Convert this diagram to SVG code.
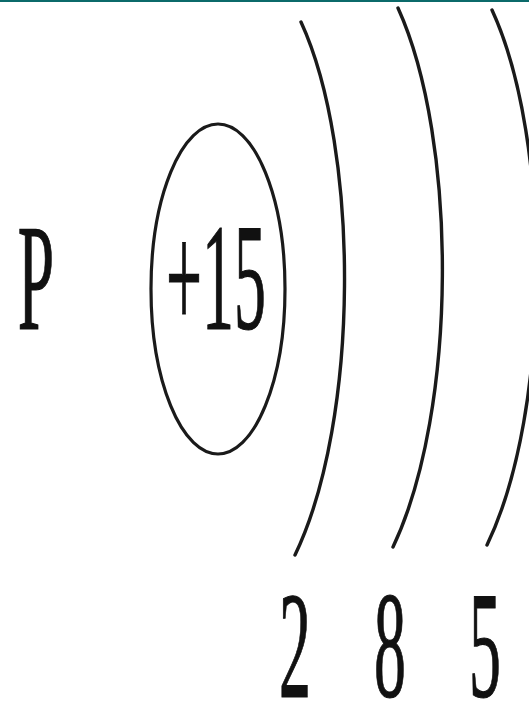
<svg xmlns="http://www.w3.org/2000/svg" width="529" height="709" viewBox="0 0 529 709">
<style>
.t{font-size:152px;fill:#111;text-anchor:middle;stroke:#111;stroke-width:1.2}
.arc{fill:none;stroke:#1a1a1a;stroke-width:3.4;stroke-linecap:round}
</style>
<rect x="0" y="0" width="529" height="709" fill="#ffffff"/>
<rect x="0" y="0" width="529" height="2" fill="#0b6a6a"/>
<g id="symbol"><text class="t" font-family="'Liberation Serif', 'DejaVu Serif', serif" transform="translate(36,329) scale(0.43,1)">P</text></g>
<g id="nucleus">
<ellipse cx="218" cy="289" rx="67" ry="165" fill="none" stroke="#1a1a1a" stroke-width="3.2"/>
<text class="t" font-family="'Liberation Serif', 'DejaVu Serif', serif" transform="translate(216,329) scale(0.42,1)">+15</text>
</g>
<g id="shells">
<path class="arc" d="M301,22 C360,150 360,420 295,555"/>
<path class="arc" d="M398,8 C458,140 458,410 393,547"/>
<path class="arc" d="M492,10 C552,140 552,410 487,545"/>
</g>
<g id="counts">
<text class="t" font-family="'Liberation Serif', 'DejaVu Serif', serif" transform="translate(295,697) scale(0.42,1)">2</text>
<text class="t" font-family="'Liberation Serif', 'DejaVu Serif', serif" transform="translate(390,697) scale(0.42,1)">8</text>
<text class="t" font-family="'Liberation Serif', 'DejaVu Serif', serif" transform="translate(485,697) scale(0.42,1)">5</text>
</g>
</svg>
